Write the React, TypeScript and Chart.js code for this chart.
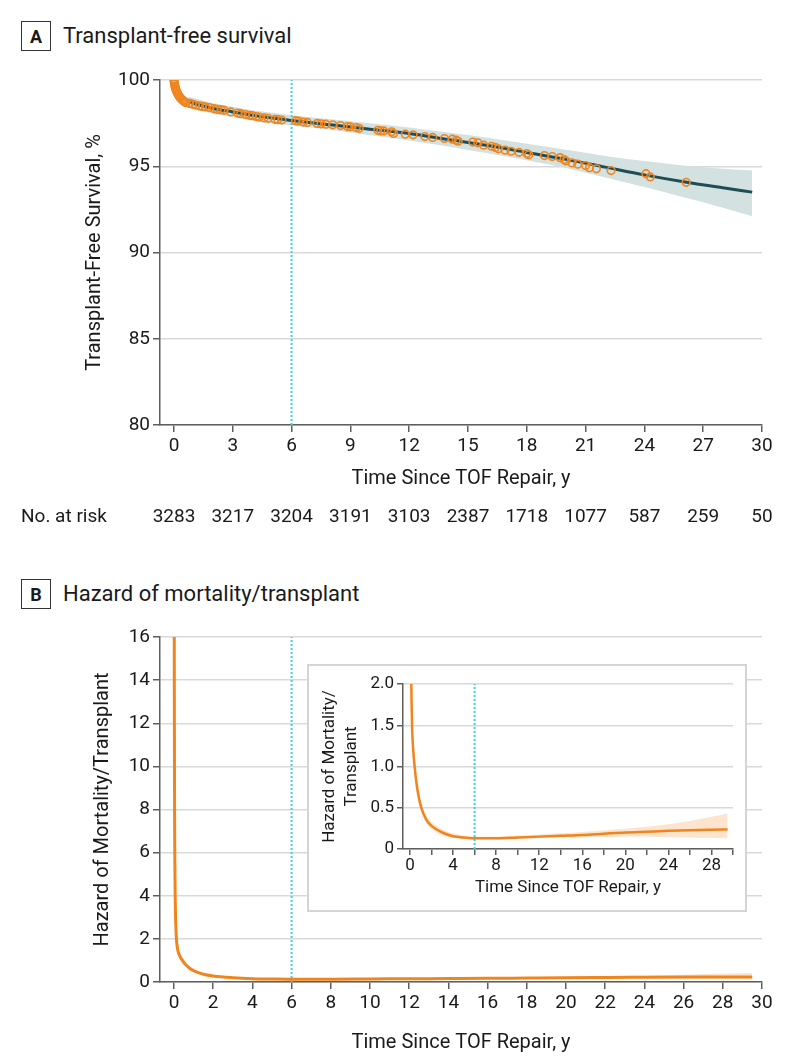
import React, { useEffect, useRef } from 'react';
import { Chart, registerables } from 'chart.js';

Chart.register(...registerables);

const FONT = "Roboto, 'Noto Sans', sans-serif";
const ORANGE = '#F0851E';
const TEAL = '#1E4D56';
const BAND_A = '#D3E1E1';
const BAND_B = 'rgba(249, 190, 140, 0.42)';
const CYAN = '#3CD3E0';
const GRID = '#D9D9D9';
const AXIS = '#5E5E5E';
const TEXT = '#1A1A1A';

// ---------- Panel A: transplant-free survival ----------
const survX = [0.7, 1, 2, 3, 4, 5, 6, 8, 10, 12, 14, 16, 18, 20, 22, 24, 26, 28, 29.5];
const survMid = [98.75, 98.65, 98.35, 98.15, 97.95, 97.8, 97.65, 97.4, 97.15, 96.9, 96.55, 96.2, 95.8, 95.4, 94.95, 94.5, 94.1, 93.75, 93.5];
const survHi = [99.05, 98.95, 98.65, 98.45, 98.25, 98.1, 97.95, 97.72, 97.5, 97.25, 96.95, 96.65, 96.3, 95.95, 95.6, 95.3, 95.05, 94.85, 94.75];
const survLo = [98.4, 98.3, 98.05, 97.85, 97.65, 97.5, 97.38, 97.1, 96.8, 96.5, 96.15, 95.75, 95.35, 94.9, 94.35, 93.8, 93.2, 92.6, 92.1];

const eventX = [
  0, 0.01, 0.02, 0.03, 0.05, 0.07, 0.09, 0.12, 0.15, 0.19, 0.23, 0.28, 0.33, 0.39, 0.45, 0.5, 0.56, 0.62,
  0.8, 0.95, 1.1, 1.3, 1.45, 1.6, 1.8, 2.05, 2.2, 2.4, 2.55, 2.9, 3.25, 3.4, 3.65, 3.85, 4.0, 4.2, 4.35, 4.6,
  4.8, 5.15, 5.3, 5.5, 6.2, 6.35, 6.6, 6.8, 7.3, 7.5, 7.75, 8.1, 8.5, 8.85, 9.0, 9.3, 9.45, 10.4, 10.55,
  10.7, 11.1, 11.2, 11.8, 12.2, 12.8, 13.2, 13.8, 14.2, 14.4, 14.5, 15.25, 15.5, 15.8, 16.2, 16.4, 16.55,
  16.9, 17.2, 17.6, 18.0, 18.1, 18.9, 19.3, 19.7, 19.9, 20.0, 20.3, 20.6, 21.0, 21.2, 21.55, 22.3, 24.08,
  24.3, 26.13,
];
const eventY = [
  100, 99.9, 99.82, 99.75, 99.64, 99.55, 99.47, 99.38, 99.3, 99.2, 99.12, 99.03, 98.95, 98.88, 98.82, 98.77, 98.72, 98.68,
  98.64, 98.6, 98.55, 98.5, 98.47, 98.45, 98.4, 98.34, 98.3, 98.28, 98.24, 98.15, 98.08, 98.05, 98.0, 97.95, 97.93, 97.88, 97.85, 97.8,
  97.78, 97.72, 97.7, 97.68, 97.64, 97.62, 97.56, 97.54, 97.48, 97.46, 97.44, 97.4, 97.36, 97.3, 97.29, 97.24, 97.2, 97.08, 97.05,
  97.05, 97.0, 96.9, 96.86, 96.82, 96.72, 96.67, 96.61, 96.57, 96.51, 96.45, 96.4, 96.36, 96.22, 96.16, 96.09, 96.01,
  95.93, 95.87, 95.81, 95.74, 95.66, 95.62, 95.56, 95.5, 95.39, 95.31, 95.19, 95.12, 95.04, 94.92, 94.85, 94.75, 94.57,
  94.38, 94.07,
];

const xTicksA = [0, 3, 6, 9, 12, 15, 18, 21, 24, 27, 30];
const yTicksA = [80, 85, 90, 95, 100];
const atRiskTimes = [0, 3, 6, 9, 12, 15, 18, 21, 24, 27, 30];
const atRisk = [3283, 3217, 3204, 3191, 3103, 2387, 1718, 1077, 587, 259, 50];
const markerYear = 6;

// ---------- Panel B: hazard ----------
const hazX = [0.01, 0.02, 0.03, 0.04, 0.06, 0.08, 0.1, 0.12, 0.15, 0.2, 0.3, 0.43, 0.6, 0.8, 1.05, 1.5, 2, 3, 4, 5, 6, 8, 10, 12, 14, 16, 18, 20, 22, 24, 26, 28, 29.5];
const hazMid = [18, 12, 8, 6, 4, 3, 2.5, 2.05, 1.75, 1.45, 1.2, 1.0, 0.8, 0.64, 0.5, 0.36, 0.28, 0.2, 0.155, 0.14, 0.13, 0.13, 0.14, 0.15, 0.16, 0.17, 0.185, 0.2, 0.21, 0.22, 0.228, 0.233, 0.236];
const hazLo = [16, 10.5, 7, 5.3, 3.5, 2.65, 2.2, 1.8, 1.55, 1.28, 1.05, 0.88, 0.7, 0.56, 0.45, 0.32, 0.24, 0.17, 0.135, 0.12, 0.115, 0.115, 0.12, 0.13, 0.135, 0.14, 0.145, 0.15, 0.15, 0.145, 0.14, 0.135, 0.13];
const hazHi = [20, 13.5, 9, 6.8, 4.5, 3.4, 2.8, 2.3, 1.95, 1.62, 1.35, 1.12, 0.9, 0.72, 0.56, 0.41, 0.33, 0.24, 0.19, 0.165, 0.15, 0.15, 0.16, 0.175, 0.19, 0.205, 0.225, 0.245, 0.27, 0.3, 0.34, 0.39, 0.43];

const xTicksB = [0, 2, 4, 6, 8, 10, 12, 14, 16, 18, 20, 22, 24, 26, 28, 30];
const yTicksB = [0, 2, 4, 6, 8, 10, 12, 14, 16];
const xTicksInset = [0, 2, 4, 6, 8, 10, 12, 14, 16, 18, 20, 22, 24, 26, 28, 30];
const xLabelsInset = [0, 4, 8, 12, 16, 20, 24, 28];
const yTicksInset = [0, 0.5, 1, 1.5, 2];

const pts = (xs: number[], ys: number[]) => xs.map((x, i) => ({ x, y: ys[i] }));
const setTicks = (vals: number[]) => (scale: any) => {
  scale.ticks = vals.map((value) => ({ value }));
};

const axisBorder = { display: true, color: AXIS, width: 1.5 };

const atRiskPlugin = {
  id: 'atRisk',
  afterDraw(chart: any) {
    const { ctx, scales } = chart;
    ctx.save();
    ctx.font = `19px ${FONT}`;
    ctx.fillStyle = TEXT;
    ctx.textBaseline = 'middle';
    ctx.textAlign = 'left';
    ctx.fillText('No. at risk', 21, 457);
    ctx.textAlign = 'center';
    atRiskTimes.forEach((t, i) => {
      ctx.fillText(String(atRisk[i]), scales.x.getPixelForValue(t), 457);
    });
    ctx.restore();
  },
};

function configA(): any {
  return {
    type: 'line',
    data: {
      datasets: [
        { data: pts(survX, survHi), borderWidth: 0, pointRadius: 0, fill: '+1', backgroundColor: BAND_A, cubicInterpolationMode: 'monotone', order: 4 },
        { data: pts(survX, survLo), borderWidth: 0, pointRadius: 0, fill: false, cubicInterpolationMode: 'monotone', order: 4 },
        { data: [{ x: markerYear, y: 80 }, { x: markerYear, y: 100 }], borderColor: CYAN, borderWidth: 2, borderDash: [2, 2], pointRadius: 0, fill: false, order: 3 },
        { data: pts(survX, survMid), borderColor: TEAL, borderWidth: 3, pointRadius: 0, fill: false, cubicInterpolationMode: 'monotone', order: 2 },
        { data: pts(eventX, eventY), showLine: false, pointRadius: 3.8, pointBorderWidth: 1.6, pointBorderColor: ORANGE, pointBackgroundColor: 'rgba(0,0,0,0)', order: 1 },
      ],
    },
    options: {
      animation: false,
      responsive: false,
      events: [],
      layout: { padding: { left: 0, right: 32, top: 20, bottom: 49 } },
      plugins: { legend: { display: false }, tooltip: { enabled: false } },
      scales: {
        x: {
          type: 'linear', min: -0.714, max: 30,
          afterBuildTicks: setTicks(xTicksA),
          afterFit: (s: any) => { s.height = 66; },
          ticks: { font: { family: FONT, size: 19 }, color: TEXT, padding: 3, maxRotation: 0, autoSkip: false },
          grid: { drawOnChartArea: false, drawTicks: true, tickLength: 7, color: AXIS, lineWidth: 1.5 },
          border: axisBorder,
          title: { display: true, text: 'Time Since TOF Repair, y', font: { family: FONT, size: 20 }, color: TEXT, padding: 0 },
        },
        y: {
          type: 'linear', min: 80, max: 100,
          afterBuildTicks: setTicks(yTicksA),
          afterFit: (s: any) => { s.width = 160; },
          ticks: { font: { family: FONT, size: 19 }, color: TEXT, padding: 3 },
          grid: { color: GRID, lineWidth: 1.5, tickColor: AXIS, tickLength: 7, tickWidth: 1.5 },
          border: axisBorder,
          title: { display: true, text: 'Transplant-Free Survival, %', font: { family: FONT, size: 20 }, color: TEXT, padding: { top: 83, bottom: 0 } },
        },
      },
    },
    plugins: [atRiskPlugin],
  };
}

function configB(): any {
  return {
    type: 'line',
    data: {
      datasets: [
        { data: pts(hazX, hazHi), borderWidth: 0, pointRadius: 0, fill: '+1', backgroundColor: BAND_B, cubicInterpolationMode: 'monotone', order: 4 },
        { data: pts(hazX, hazLo), borderWidth: 0, pointRadius: 0, fill: false, cubicInterpolationMode: 'monotone', order: 4 },
        { data: [{ x: markerYear, y: 0 }, { x: markerYear, y: 16 }], borderColor: CYAN, borderWidth: 2, borderDash: [2, 2], pointRadius: 0, fill: false, order: 3 },
        { data: pts(hazX, hazMid), borderColor: ORANGE, borderWidth: 3, pointRadius: 0, fill: false, cubicInterpolationMode: 'monotone', order: 1 },
      ],
    },
    options: {
      animation: false,
      responsive: false,
      events: [],
      layout: { padding: { left: 0, right: 32, top: 17, bottom: 8 } },
      plugins: { legend: { display: false }, tooltip: { enabled: false } },
      scales: {
        x: {
          type: 'linear', min: -0.714, max: 30,
          afterBuildTicks: setTicks(xTicksB),
          afterFit: (s: any) => { s.height = 73; },
          ticks: { font: { family: FONT, size: 19 }, color: TEXT, padding: 3, maxRotation: 0, autoSkip: false },
          grid: { drawOnChartArea: false, drawTicks: true, tickLength: 7, color: AXIS, lineWidth: 1.5 },
          border: axisBorder,
          title: { display: true, text: 'Time Since TOF Repair, y', font: { family: FONT, size: 20 }, color: TEXT, padding: 0 },
        },
        y: {
          type: 'linear', min: 0, max: 16,
          afterBuildTicks: setTicks(yTicksB),
          afterFit: (s: any) => { s.width = 160; },
          ticks: { font: { family: FONT, size: 19 }, color: TEXT, padding: 3 },
          grid: { color: GRID, lineWidth: 1.5, tickColor: AXIS, tickLength: 7, tickWidth: 1.5 },
          border: axisBorder,
          title: { display: true, text: 'Hazard of Mortality/Transplant', font: { family: FONT, size: 20 }, color: TEXT, padding: { top: 91, bottom: 0 } },
        },
      },
    },
  };
}

function configInset(): any {
  return {
    type: 'line',
    data: {
      datasets: [
        { data: pts(hazX, hazHi), borderWidth: 0, pointRadius: 0, fill: '+1', backgroundColor: BAND_B, cubicInterpolationMode: 'monotone', order: 4 },
        { data: pts(hazX, hazLo), borderWidth: 0, pointRadius: 0, fill: false, cubicInterpolationMode: 'monotone', order: 4 },
        { data: [{ x: markerYear, y: 0 }, { x: markerYear, y: 2 }], borderColor: CYAN, borderWidth: 2, borderDash: [2, 2], pointRadius: 0, fill: false, order: 3 },
        { data: pts(hazX, hazMid), borderColor: ORANGE, borderWidth: 2.5, pointRadius: 0, fill: false, cubicInterpolationMode: 'monotone', order: 1 },
      ],
    },
    options: {
      animation: false,
      responsive: false,
      events: [],
      layout: { padding: { left: 0, right: 12, top: 18, bottom: 12 } },
      plugins: { legend: { display: false }, tooltip: { enabled: false } },
      scales: {
        x: {
          type: 'linear', min: -0.65, max: 30,
          afterBuildTicks: setTicks(xTicksInset),
          afterFit: (s: any) => { s.height = 49; },
          ticks: {
            font: { family: FONT, size: 17 }, color: TEXT, padding: 1, maxRotation: 0, autoSkip: false,
            callback: (v: any) => (xLabelsInset.includes(Number(v)) ? String(v) : ''),
          },
          grid: { drawOnChartArea: false, drawTicks: true, tickLength: 6, color: AXIS, lineWidth: 1.5 },
          border: axisBorder,
          title: { display: true, text: 'Time Since TOF Repair, y', font: { family: FONT, size: 17 }, color: TEXT, padding: 0 },
        },
        y: {
          type: 'linear', min: 0, max: 2,
          afterBuildTicks: setTicks(yTicksInset),
          afterFit: (s: any) => { s.width = 94; },
          ticks: {
            font: { family: FONT, size: 17 }, color: TEXT, padding: 3,
            callback: (v: any) => (Number(v) === 0 ? '0' : Number(v).toFixed(1)),
          },
          grid: { color: GRID, lineWidth: 1.5, tickColor: AXIS, tickLength: 6, tickWidth: 1.5 },
          border: axisBorder,
          title: {
            display: true, text: ['Hazard of Mortality/', 'Transplant'],
            font: { family: FONT, size: 17, lineHeight: '22px' }, color: TEXT, padding: { top: 10, bottom: 0 },
          },
        },
      },
    },
  };
}

const headerBox: React.CSSProperties = {
  position: 'absolute', left: 21, width: 30, height: 30, boxSizing: 'border-box',
  border: '1.5px solid #333', display: 'flex', alignItems: 'center', justifyContent: 'center',
  fontFamily: FONT, fontWeight: 700, fontSize: 18, color: TEXT,
};
const headerText: React.CSSProperties = {
  position: 'absolute', left: 63, height: 30, lineHeight: '30px',
  fontFamily: FONT, fontSize: 22, color: TEXT, whiteSpace: 'nowrap',
};

export default function App() {
  const refA = useRef<HTMLCanvasElement>(null);
  const refB = useRef<HTMLCanvasElement>(null);
  const refI = useRef<HTMLCanvasElement>(null);

  useEffect(() => {
    const charts = [
      new Chart(refA.current as HTMLCanvasElement, configA()),
      new Chart(refB.current as HTMLCanvasElement, configB()),
      new Chart(refI.current as HTMLCanvasElement, configInset()),
    ];
    return () => charts.forEach((c) => c.destroy());
  }, []);

  return (
    <div style={{ position: 'absolute', left: 0, top: 0, width: 794, height: 1063, background: '#fff', overflow: 'hidden' }}>
      <div style={{ ...headerBox, top: 21 }}>A</div>
      <div style={{ ...headerText, top: 21 }}>Transplant-free survival</div>
      <div style={{ position: 'absolute', left: 0, top: 60, width: 794, height: 480 }}>
        <canvas ref={refA} width={794} height={480} style={{ width: 794, height: 480, display: 'block' }} />
      </div>

      <div style={{ ...headerBox, top: 579 }}>B</div>
      <div style={{ ...headerText, top: 579 }}>Hazard of mortality/transplant</div>
      <div style={{ position: 'absolute', left: 0, top: 620, width: 794, height: 443 }}>
        <canvas ref={refB} width={794} height={443} style={{ width: 794, height: 443, display: 'block' }} />
      </div>

      <div style={{ position: 'absolute', left: 307, top: 664, width: 440, height: 248, boxSizing: 'border-box', border: '2px solid #D4D4D4', background: '#fff' }}>
        <canvas ref={refI} width={436} height={244} style={{ width: 436, height: 244, display: 'block' }} />
      </div>
    </div>
  );
}
